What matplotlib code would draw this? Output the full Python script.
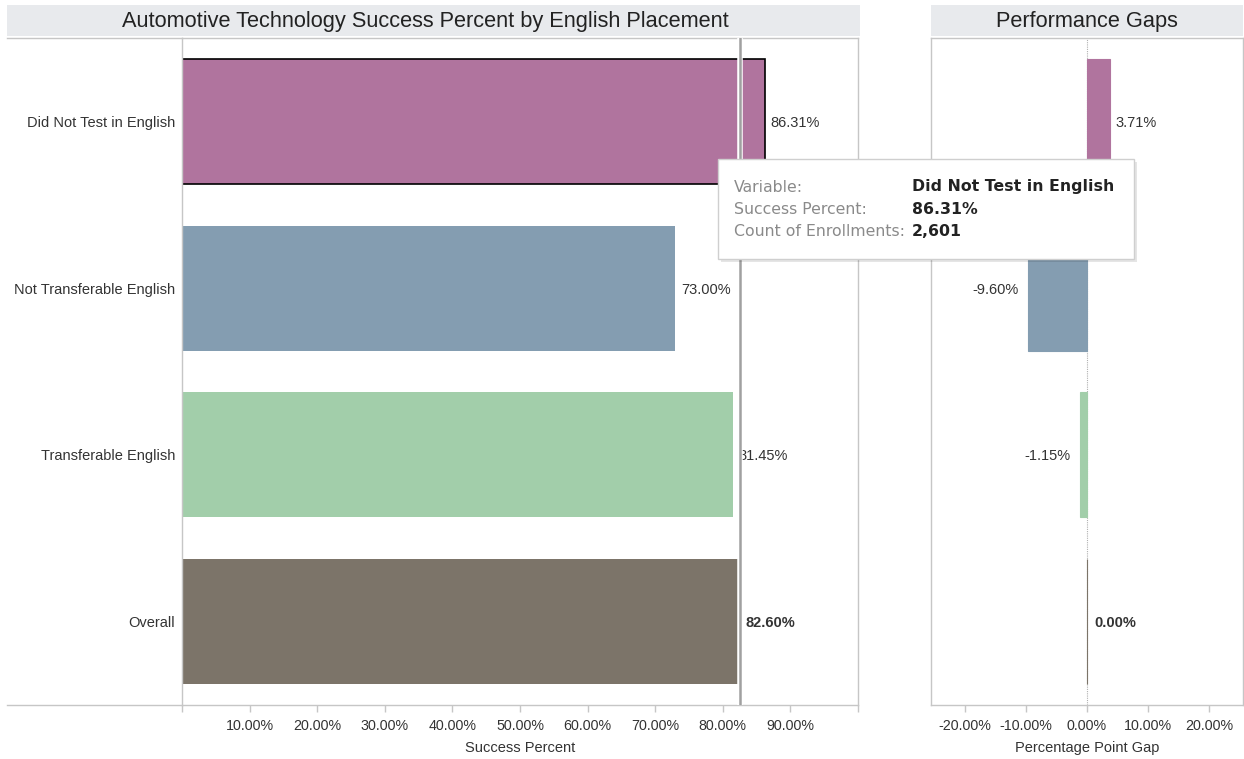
import matplotlib
matplotlib.use("Agg")
import matplotlib.pyplot as plt
from matplotlib.patches import Rectangle
from matplotlib.lines import Line2D

plt.rcParams['font.family'] = ['Liberation Sans', 'DejaVu Sans']

# ---- data ----
categories = ["Did Not Test in English", "Not Transferable English",
              "Transferable English", "Overall"]
success_pct = [86.31, 73.00, 81.45, 82.60]
gap_pct = [3.71, -9.60, -1.15, 0.00]
overall_pct = 82.60
bar_colors = ["#b0749e", "#849db1", "#a2ceaa", "#7c7469"]
success_ticks = [0, 10, 20, 30, 40, 50, 60, 70, 80, 90, 100]
gap_ticks = [-20, -10, 0, 10, 20]
tooltip_keys = ["Variable:", "Success Percent:", "Count of Enrollments:"]
tooltip_vals = ["Did Not Test in English", "86.31%", "2,601"]

W, H = 1244, 759
fig = plt.figure(figsize=(W / 100, H / 100), dpi=100)
fig.patch.set_facecolor("white")


def fx(x):
    return x / W


def fy(y):
    return 1 - y / H


spine_c = "#c6c6c6"
text_c = "#333333"
lab_fs = 10.5
tick_fs = 10.3

# ---- panels ----
ax1 = fig.add_axes([fx(182), fy(705), fx(858) - fx(182), fy(38) - fy(705)])
ax2 = fig.add_axes([fx(931), fy(705), fx(1243) - fx(931), fy(38) - fy(705)])

ypos = list(range(len(categories)))

# left: success percent
bars = ax1.barh(ypos, success_pct, height=0.75, color=bar_colors, zorder=2)
bars[0].set_edgecolor("black")
bars[0].set_linewidth(1.2)
ax1.set_xlim(0, 100)
ax1.set_ylim(3.5, -0.5)
ax1.set_xticks(success_ticks)
ax1.set_xticklabels(["" if t in (0, 100) else f"{t:.2f}%" for t in success_ticks])
ax1.set_yticks(ypos)
ax1.set_yticklabels(categories, va="center_baseline")
ax1.tick_params(axis="y", length=0, pad=5, labelsize=lab_fs, labelcolor=text_c)
ax1.tick_params(axis="x", direction="out", length=5, color=spine_c, width=1,
                labelsize=tick_fs, labelcolor=text_c, pad=5)
ax1.set_xlabel("Success Percent", fontsize=lab_fs, color=text_c, labelpad=6)

for i, v in enumerate(success_pct):
    bold = categories[i] == "Overall"
    ax1.annotate(f"{v:.2f}%", xy=(v, i), xytext=(3.8, 0), textcoords="offset points",
                 ha="left", va="center_baseline", fontsize=lab_fs, color=text_c,
                 fontweight="bold" if bold else "normal", zorder=3)

# reference line at overall value
ax1.axvline(overall_pct, color="white", lw=4, zorder=4)
ax1.axvline(overall_pct, color="#a0a0a0", lw=1.8, zorder=5)

# right: gaps
ax2.barh(ypos, gap_pct, height=0.75, color=bar_colors, edgecolor=bar_colors,
         linewidth=0.8, zorder=2)
ax2.axvline(0, color="#b0b0b0", lw=0.8, linestyle=(0, (1, 1)), zorder=1)
ax2.set_xlim(-25.5, 25.5)
ax2.set_ylim(3.5, -0.5)
ax2.set_xticks(gap_ticks)
ax2.set_xticklabels([f"{t:.2f}%" for t in gap_ticks])
ax2.set_yticks([])
ax2.tick_params(axis="x", direction="out", length=5, color=spine_c, width=1,
                labelsize=tick_fs, labelcolor=text_c, pad=5)
ax2.set_xlabel("Percentage Point Gap", fontsize=lab_fs, color=text_c, labelpad=6)

for i, v in enumerate(gap_pct):
    bold = categories[i] == "Overall"
    if v > 0:
        off, ha = 3.8, "left"
    elif v < 0:
        off, ha = -7, "right"
    else:
        off, ha = 5.5, "left"
    ax2.annotate(f"{v:.2f}%", xy=(v, i), xytext=(off, 0), textcoords="offset points",
                 ha=ha, va="center_baseline", fontsize=lab_fs, color=text_c,
                 fontweight="bold" if bold else "normal", zorder=3)

for ax in (ax1, ax2):
    for s in ax.spines.values():
        s.set_color(spine_c)
        s.set_linewidth(1)

# frame lines running under the category labels
for yy in (38, 705):
    fig.add_artist(Line2D([fx(7), fx(182)], [fy(yy), fy(yy)], color=spine_c, lw=1))

# ---- header bands ----
band_c = "#e8eaed"
fig.add_artist(Rectangle((fx(7), fy(36)), fx(860) - fx(7), fy(5) - fy(36),
                         facecolor=band_c, edgecolor="none", transform=fig.transFigure))
fig.add_artist(Rectangle((fx(931), fy(36)), fx(1243) - fx(931), fy(5) - fy(36),
                         facecolor=band_c, edgecolor="none", transform=fig.transFigure))
fig.text(fx(425), fy(21), "Automotive Technology Success Percent by English Placement",
         ha="center", va="center", fontsize=15.7, color="#222222")
fig.text(fx(1087), fy(21), "Performance Gaps", ha="center", va="center",
         fontsize=15.7, color="#222222")

# ---- tooltip ----
tx0, ty0, tx1, ty1 = 718, 159, 1134, 259
shadow = Rectangle((fx(tx0 + 3), fy(ty1 + 3)), fx(tx1) - fx(tx0), fy(ty0) - fy(ty1),
                   facecolor="black", alpha=0.10, edgecolor="none",
                   transform=fig.transFigure, zorder=20)
box = Rectangle((fx(tx0), fy(ty1)), fx(tx1) - fx(tx0), fy(ty0) - fy(ty1),
                facecolor="white", edgecolor="#cfcfcf", lw=1,
                transform=fig.transFigure, zorder=21)
fig.add_artist(shadow)
fig.add_artist(box)
for k, (key, val) in enumerate(zip(tooltip_keys, tooltip_vals)):
    yy = 187 + 22 * k
    fig.text(fx(734), fy(yy), key, ha="left", va="center", fontsize=11.3,
             color="#8a8a8a", family="DejaVu Sans", zorder=22)
    fig.text(fx(912), fy(yy), val, ha="left", va="center", fontsize=11.3,
             color="#222222", family="DejaVu Sans", fontweight="bold", zorder=22)

fig.savefig("out.png", dpi=100)
